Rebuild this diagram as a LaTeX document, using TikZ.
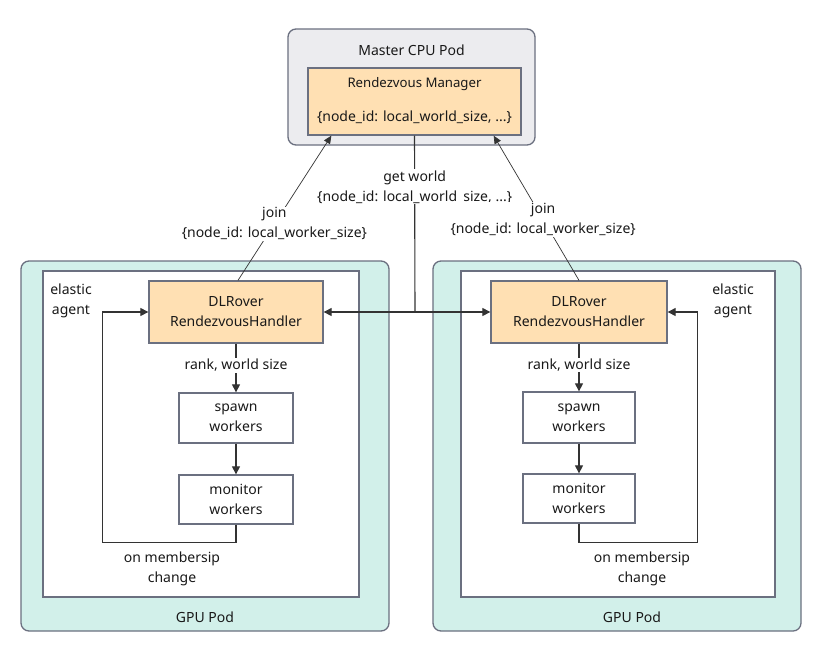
\documentclass[tikz,border=0pt]{standalone}
\usepackage{fontspec}
\setmainfont{Noto Sans}
\usetikzlibrary{arrows.meta,calc}
\definecolor{bordc}{HTML}{6B7080}
\definecolor{grayfill}{HTML}{ECECEF}
\definecolor{tealfill}{HTML}{D2F0EA}
\definecolor{orangefill}{HTML}{FFE0B3}
\definecolor{linec}{HTML}{333333}
\tikzset{
  x=1pt,y=-1pt,
  every node/.style={font=\fontsize{14}{20}\selectfont, text=black!90},
  pod/.style={draw=bordc, line width=1.3pt, rounded corners=8pt, inner sep=0pt},
  inner/.style={draw=bordc, line width=1.3pt, fill=white, inner sep=0pt},
  orbox/.style={draw=bordc, line width=1.3pt, fill=orangefill, align=center, inner sep=0pt},
  wbox/.style={draw=bordc, line width=1.3pt, fill=white, align=center, inner sep=0pt},
  arr/.style={draw=linec, line width=1.1pt, -{Triangle[length=8pt,width=8pt]}},
  thinarr/.style={draw=linec, line width=0.7pt, -{Triangle[length=8pt,width=7pt]}},
  plain/.style={draw=linec, line width=1.1pt},
  lbl/.style={align=center, fill=white, inner sep=1pt},
  txt/.style={align=center, inner sep=0pt}
}
\begin{document}
\begin{tikzpicture}
\useasboundingbox[fill=white] (0,0) rectangle (826,648);
% master pod
\node[pod, fill=grayfill, minimum width=247pt, minimum height=116pt] (master) at (411.5,87) {};
\node[txt] (mastert) at (411.5,50) {Master CPU Pod};
\node[orbox, minimum width=213pt, minimum height=67pt] (rm) at (414.5,101.5) {};
\node[txt, font=\fontsize{13.2}{18}\selectfont] (rmt) at (414.5,84) {Rendezvous Manager};
\node[txt] (rmd) at (414.5,117) {\{node\_id: local\_world\_size, ...\}};
% GPU pods
\node[pod, fill=tealfill, minimum width=368pt, minimum height=370pt] (podL) at (205,446) {};
\node[inner, minimum width=316pt, minimum height=326pt] (innL) at (201,434) {};
\node[txt] (podLt) at (205,617) {GPU Pod};
\node[pod, fill=tealfill, minimum width=368pt, minimum height=370pt] (podR) at (617,446) {};
\node[inner, minimum width=314pt, minimum height=326pt] (innR) at (618,434) {};
\node[txt] (podRt) at (632,617) {GPU Pod};
% left agent
\node[orbox, minimum width=174pt, minimum height=62pt] (hL) at (236,312) {DLRover\\RendezvousHandler};
\node[wbox, minimum width=114pt, minimum height=50pt] (spL) at (236,418) {spawn\\workers};
\node[wbox, minimum width=114pt, minimum height=49pt] (moL) at (236,499.5) {monitor\\workers};
\node[txt] (eaL) at (71,301) {elastic\\agent};
\node[txt] (omL) at (172,568.5) {on membersip\\change};
% right agent
\node[orbox, minimum width=176pt, minimum height=62pt] (hR) at (579,312) {DLRover\\RendezvousHandler};
\node[wbox, minimum width=112pt, minimum height=51pt] (spR) at (579,417.5) {spawn\\workers};
\node[wbox, minimum width=112pt, minimum height=49pt] (moR) at (579,498.5) {monitor\\workers};
\node[txt] (eaR) at (733,301) {elastic\\agent};
\node[txt] (omR) at (642,568.5) {on membersip\\change};
% internal arrows
\draw[arr] (hL.south) -- node[lbl, pos=0.45] {rank, world size} (spL.north);
\draw[arr] (spL.south) -- (moL.north);
\draw[arr] (moL.south) -- ++(0,18) -| ([xshift=-46pt]hL.west) -- (hL.west);
\draw[arr] (hR.south) -- node[lbl, pos=0.45] {rank, world size} (spR.north);
\draw[arr] (spR.south) -- (moR.north);
\draw[arr] (moR.south) -- ++(0,19) -| ([xshift=30pt]hR.east) -- (hR.east);
% get world
\coordinate (jn) at (415,312);
\draw[plain] (rm.south) -- node[lbl, pos=0.29] {get world\\\{node\_id: local\_world\_size, ...\}} (jn);
\draw[arr] (jn) -- (hL.east);
\draw[arr] (jn) -- (hR.west);
% joins
\draw[thinarr] ([xshift=2pt]hL.north) -- node[lbl, pos=0.39] {join\\\{node\_id: local\_worker\_size\}} ([xshift=24pt]rm.south west);
\draw[thinarr] (hR.north) -- node[lbl, pos=0.42] {join\\\{node\_id: local\_worker\_size\}} ([xshift=-28pt]rm.south east);
\end{tikzpicture}
\end{document}
